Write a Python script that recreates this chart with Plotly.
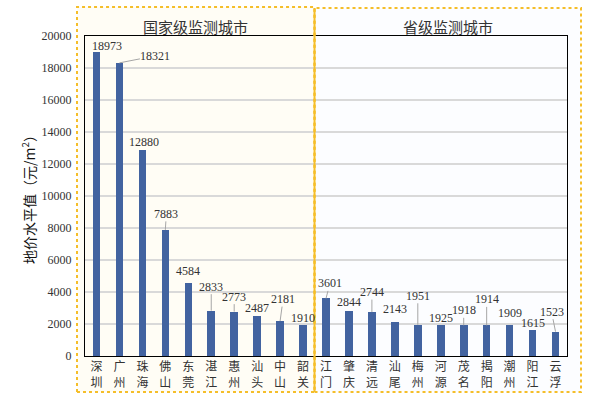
import plotly.graph_objects as go

cities = ["深圳", "广州", "珠海", "佛山", "东莞", "湛江", "惠州", "汕头", "中山", "韶关",
          "江门", "肇庆", "清远", "汕尾", "梅州", "河源", "茂名", "揭阳", "潮州", "阳江", "云浮"]
values = [18973, 18321, 12880, 7883, 4584, 2833, 2773, 2487, 2181, 1910,
          3601, 2844, 2744, 2143, 1951, 1925, 1918, 1914, 1909, 1615, 1523]
group_titles = ["国家级监测城市", "省级监测城市"]
n_national = 10
y_ticks = [0, 2000, 4000, 6000, 8000, 10000, 12000, 14000, 16000, 18000, 20000]
y_title = "地价水平值（元/m<sup>2</sup>）"

# label placement (pixel offsets from bar top) and whether a leader line is drawn
label_dx = [11, 36, 2, 1, 0, 0, 0, 0, 3, 0, 4, 0, 0, 0, 0, 0, 0, 0, 0, 0, -4]
label_dy = [-6, -7, -8, -16, -12, -24, -15, -8, -22, -7, -15, -9, -20, -13, -29, -7, -15, -26, -12, -7, -20]
leader = [False, True, False, True, False, True, True, False, True, False, True, False,
          True, False, True, False, True, True, False, False, True]

BAR = "#4263a0"
ORANGE = "#f5be2a"
SERIF = "Liberation Serif, Times New Roman, serif"
CJK = "Noto Sans CJK SC, Noto Sans, sans-serif"

fig = go.Figure()
fig.add_trace(go.Bar(
    x=list(range(len(cities))), y=values, width=0.33,
    marker=dict(color=BAR, line=dict(width=0)),
    hoverinfo="skip",
))

annotations = []
for i, v in enumerate(values):
    if leader[i]:
        annotations.append(dict(
            x=i, y=v, xref="x", yref="y", text=str(v), showarrow=True,
            ax=label_dx[i], ay=label_dy[i], axref="pixel", ayref="pixel",
            arrowhead=0, arrowwidth=1, arrowcolor="#a6a6a6", standoff=0,
            font=dict(family=SERIF, size=12, color="#333333"),
            borderpad=0,
        ))
    else:
        annotations.append(dict(
            x=i, y=v, xref="x", yref="y", text=str(v), showarrow=False,
            xshift=label_dx[i], yshift=-label_dy[i],
            font=dict(family=SERIF, size=12, color="#333333"),
        ))

# group titles
xl = -0.5
xm = n_national - 0.5
xr = len(cities) - 0.5
annotations.append(dict(x=(xl + xm) / 2 - 0.2, y=1.031, xref="x", yref="paper", text=group_titles[0],
                        showarrow=False, yanchor="middle",
                        font=dict(family=CJK, size=15, color="#333333")))
annotations.append(dict(x=(xm + xr) / 2 + 0.32, y=1.031, xref="x", yref="paper", text=group_titles[1],
                        showarrow=False, yanchor="middle",
                        font=dict(family=CJK, size=15, color="#333333")))

PLOT_W = 482.0
PLOT_H = 320.0


def px_x(d):
    return (d - xl) / (xr - xl)


p_left = -8 / PLOT_W
p_mid = px_x(xm)
p_right = 1 + 14 / PLOT_W
y_top = (356 - 7) / PLOT_H
y_bot = (356 - 392) / PLOT_H

shapes = [
    dict(type="rect", xref="paper", yref="paper", x0=p_left, x1=p_mid, y0=y_bot, y1=y_top,
         fillcolor="#fffdf5", line=dict(width=0), layer="below"),
    dict(type="rect", xref="paper", yref="paper", x0=p_mid, x1=p_right, y0=y_bot, y1=y_top - 0.003,
         fillcolor="#fcfdff", line=dict(width=0), layer="below"),
    dict(type="rect", xref="paper", yref="paper", x0=p_left, x1=p_mid, y0=y_bot, y1=y_top,
         line=dict(color=ORANGE, width=2, dash="dot"), layer="above"),
    dict(type="rect", xref="paper", yref="paper", x0=p_mid, x1=p_right, y0=y_bot, y1=y_top - 0.003,
         line=dict(color=ORANGE, width=2, dash="dot"), layer="above"),
    dict(type="line", xref="paper", yref="paper", x0=p_mid, x1=p_mid, y0=y_bot, y1=y_top - 0.003,
         line=dict(color=ORANGE, width=2), layer="above"),
]

fig.update_layout(
    width=600, height=399,
    margin=dict(l=85, r=33, t=36, b=43, autoexpand=False),
    paper_bgcolor="white",
    plot_bgcolor="rgba(0,0,0,0)",
    showlegend=False,
    bargap=0,
    xaxis=dict(
        range=[xl, xr],
        automargin=False,
        tickmode="array",
        tickvals=list(range(len(cities))),
        ticktext=[c[0] + "<br>" + c[1] for c in cities],
        tickfont=dict(family=CJK, size=12, color="#333333"),
        showline=True, linecolor="black", linewidth=1, mirror=True,
        ticks="", showgrid=False, zeroline=False,
    ),
    yaxis=dict(
        range=[0, 20000],
        automargin=False,
        tickmode="array",
        tickvals=y_ticks,
        ticktext=[str(t) for t in y_ticks],
        tickfont=dict(family=SERIF, size=12, color="#333333"),
        showline=True, linecolor="black", linewidth=1, mirror=True,
        ticks="", ticklabelstandoff=10,
        showgrid=True, gridcolor="#d9d9d9", gridwidth=1.5, zeroline=False,
        title=dict(text=y_title, font=dict(family=CJK, size=14, color="#111111"), standoff=2),
    ),
    annotations=annotations,
    shapes=shapes,
)

fig.write_html(
    "out.html",
    config={"displayModeBar": False},
    post_script="document.body.style.margin='0';document.body.style.padding='0';document.body.style.overflow='hidden';",
)
